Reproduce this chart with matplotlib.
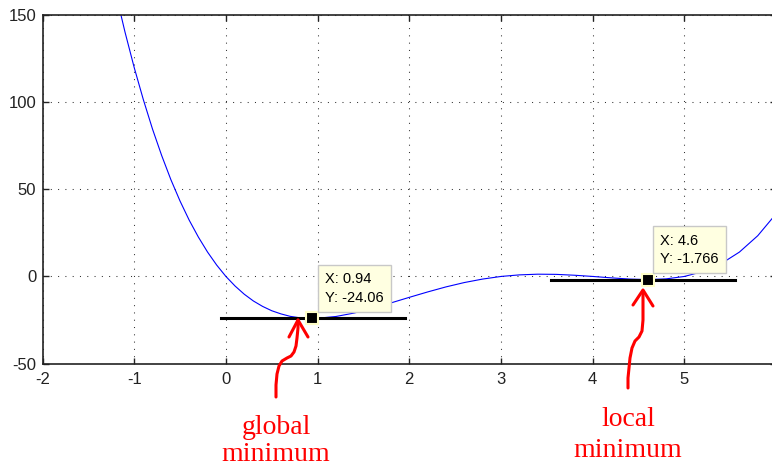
import matplotlib.pyplot as plt
import matplotlib.transforms as mtransforms

plt.rcParams['axes.unicode_minus'] = False

# curve values
xs = [-1.2, -1.1, -1.0, -0.9, -0.8, -0.7, -0.6, -0.5, -0.4, -0.3, -0.2, -0.1,
      0.0, 0.1, 0.2, 0.3, 0.4, 0.5, 0.6, 0.7, 0.8, 0.9, 1.0, 1.2, 1.4, 1.6,
      1.8, 2.0, 2.2, 2.4, 2.6, 2.8, 3.0, 3.2, 3.4, 3.6, 3.8, 4.0, 4.2, 4.4,
      4.6, 4.8, 5.0, 5.2, 5.4, 5.6, 5.8, 6.0]
ys = [162.5, 140.3, 120.0, 101.5, 84.6, 69.4, 55.6, 43.3, 32.3, 22.6, 14.0, 6.5,
      0.0, -5.5, -10.2, -14.1, -17.2, -19.7, -21.5, -22.9, -23.7, -24.0, -24.0,
      -23.0, -21.0, -18.3, -15.2, -12.0, -8.9, -6.0, -3.5, -1.5, 0.0, 0.9, 1.3,
      1.2, 0.7, 0.0, -0.8, -1.5, -1.8, -1.4, 0.0, 2.8, 7.3, 14.0, 23.4, 36.0]

# data tips
tip_x = [0.94, 4.6]
tip_y = [-24.06, -1.766]
tip_xlabel = ['0.94', '4.6']
tip_ylabel = ['-24.06', '-1.766']
# black horizontal bars through the minima
bar_x0 = [-0.05, 3.55]
bar_x1 = [1.95, 5.55]

W, H = 772, 467
fig = plt.figure(figsize=(W / 100, H / 100), dpi=100)
ax = fig.add_axes([42.5 / W, 1 - 363.5 / H, 733.6 / W, 348.2 / H])

ax.plot(xs, ys, color='#0000FF', lw=0.8, zorder=2)
for i in range(2):
    ax.plot([bar_x0[i], bar_x1[i]], [tip_y[i], tip_y[i]], color='black', lw=2.2, zorder=3)
    ax.plot(tip_x[i], tip_y[i], 's', ms=8, mfc='black', mec='#FFFFC8', mew=1.5, zorder=5)
    ax.annotate('X: %s\nY: %s' % (tip_xlabel[i], tip_ylabel[i]),
                xy=(tip_x[i], tip_y[i]), xytext=(9.2, 9.8), textcoords='offset points',
                ha='left', va='bottom', fontsize=10.5, family='Liberation Sans',
                linespacing=1.4, zorder=6,
                bbox=dict(boxstyle='square,pad=0.5', fc='#FFFFE1', ec='#C8C8C8', lw=1))

ax.set_xlim(-2, 6)
ax.set_ylim(-50, 150)
ax.set_xticks([-2, -1, 0, 1, 2, 3, 4, 5])
ax.set_yticks([-50, 0, 50, 100, 150])
ax.grid(True, color='#333333', lw=0.75, linestyle=(0, (1, 6)))
ax.tick_params(direction='in', length=4, width=1, top=True, right=True,
               labelsize=12, colors='#222222', pad=6)
ax.tick_params(axis='y', pad=4.5)
for lab in ax.get_xticklabels() + ax.get_yticklabels():
    lab.set_family('Liberation Sans')
for sp in ax.spines.values():
    sp.set_linewidth(1.2)
    sp.set_color('#222222')

# hand drawn red arrows and notes, in pixel coordinates of the picture
pix = mtransforms.Affine2D().scale(1 / W, -1 / H).translate(0, 1) + fig.transFigure
arrow1 = [(276, 397), (276, 385), (277, 374), (279, 366), (282, 361), (287, 358),
          (291, 356), (294, 352), (296, 346), (297, 338), (298, 328), (298, 320)]
head1 = [(289, 337), (298, 320), (308, 337)]
arrow2 = [(628, 388), (628, 378), (629, 368), (630, 358), (632, 348), (635, 341),
          (639, 337), (642, 331), (643, 320), (643, 305), (643, 291)]
head2 = [(633, 305), (643, 290), (653, 306)]
for pts in [arrow1, head1, arrow2, head2]:
    fig.add_artist(plt.Line2D([p[0] for p in pts], [p[1] for p in pts], color='#FF0000',
                              lw=2.2, solid_capstyle='round', solid_joinstyle='round',
                              transform=pix))

for txt, x, y in [('global', 276, 434), ('minimum', 276, 461),
                  ('local', 628, 426), ('minimum', 628, 457)]:
    fig.text(x, y, txt, transform=pix, ha='center', va='baseline', color='#FF0000',
             fontsize=20, family='Liberation Serif')

plt.savefig('out.png', dpi=100)
